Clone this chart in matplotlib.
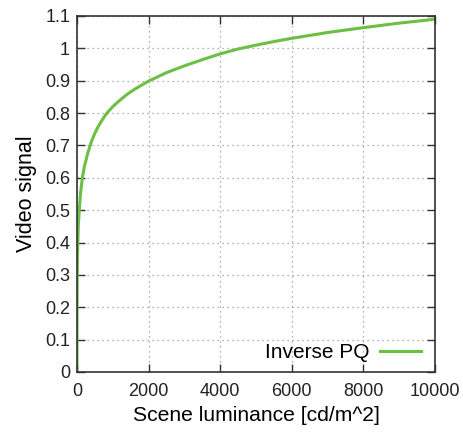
import matplotlib
matplotlib.use("Agg")
import matplotlib.pyplot as plt

luminance = [0, 1, 5, 10, 20, 40, 70, 100, 150, 200, 300, 400, 500, 600, 700, 800, 900,
             1000, 1200, 1400, 1600, 1800, 2000, 2500, 3000, 3500, 4000, 4500, 5000,
             5500, 6000, 7000, 8000, 9000, 10000]
signal = [0, 0.16, 0.27, 0.33, 0.39, 0.46, 0.51, 0.554, 0.60, 0.632, 0.676, 0.711, 0.738,
          0.760, 0.778, 0.795, 0.808, 0.820, 0.840, 0.858, 0.873, 0.886, 0.899, 0.925,
          0.946, 0.965, 0.983, 0.998, 1.010, 1.021, 1.031, 1.049, 1.064, 1.078, 1.09]
series_label = "Inverse PQ"
x_ticks = [0, 2000, 4000, 6000, 8000, 10000]
y_ticks = [0, 0.1, 0.2, 0.3, 0.4, 0.5, 0.6, 0.7, 0.8, 0.9, 1, 1.1]
y_tick_labels = ["0", "0.1", "0.2", "0.3", "0.4", "0.5", "0.6", "0.7", "0.8", "0.9", "1", "1.1"]

plt.rcParams['font.family'] = ['Liberation Sans', 'DejaVu Sans']

fig = plt.figure(figsize=(4.63, 4.32), dpi=100)
ax = fig.add_axes([77/463, 60/432, 358/463, 356/432])
ax.plot(luminance, signal, color='#6cbf45', lw=2.2, label=series_label)
ax.set_xlim(0, 10000)
ax.set_ylim(0, 1.1)
ax.set_xticks(x_ticks)
ax.set_xticklabels([str(t) for t in x_ticks])
ax.set_yticks(y_ticks)
ax.set_yticklabels(y_tick_labels)
ax.tick_params(direction='in', length=6, width=1, top=True, right=True,
               labelsize=13, colors='#333333', labelcolor='#222222')
ax.tick_params(axis='x', pad=8)
ax.tick_params(axis='y', pad=5)
ax.grid(True, color='#999999', linestyle=(0, (1, 3)), lw=0.9)
for s in ax.spines.values():
    s.set_color('#333333')
    s.set_linewidth(1.2)
ax.set_xlabel("Scene luminance [cd/m^2]", fontsize=15.2, labelpad=4)
ax.set_ylabel("Video signal", fontsize=15.5, labelpad=6)
leg = ax.legend(loc='lower right', frameon=False, markerfirst=False, fontsize=15,
                handlelength=2.0, handletextpad=0.5, borderaxespad=0.0,
                bbox_to_anchor=(0.985, 0.005))
fig.savefig("out.png", dpi=100)
